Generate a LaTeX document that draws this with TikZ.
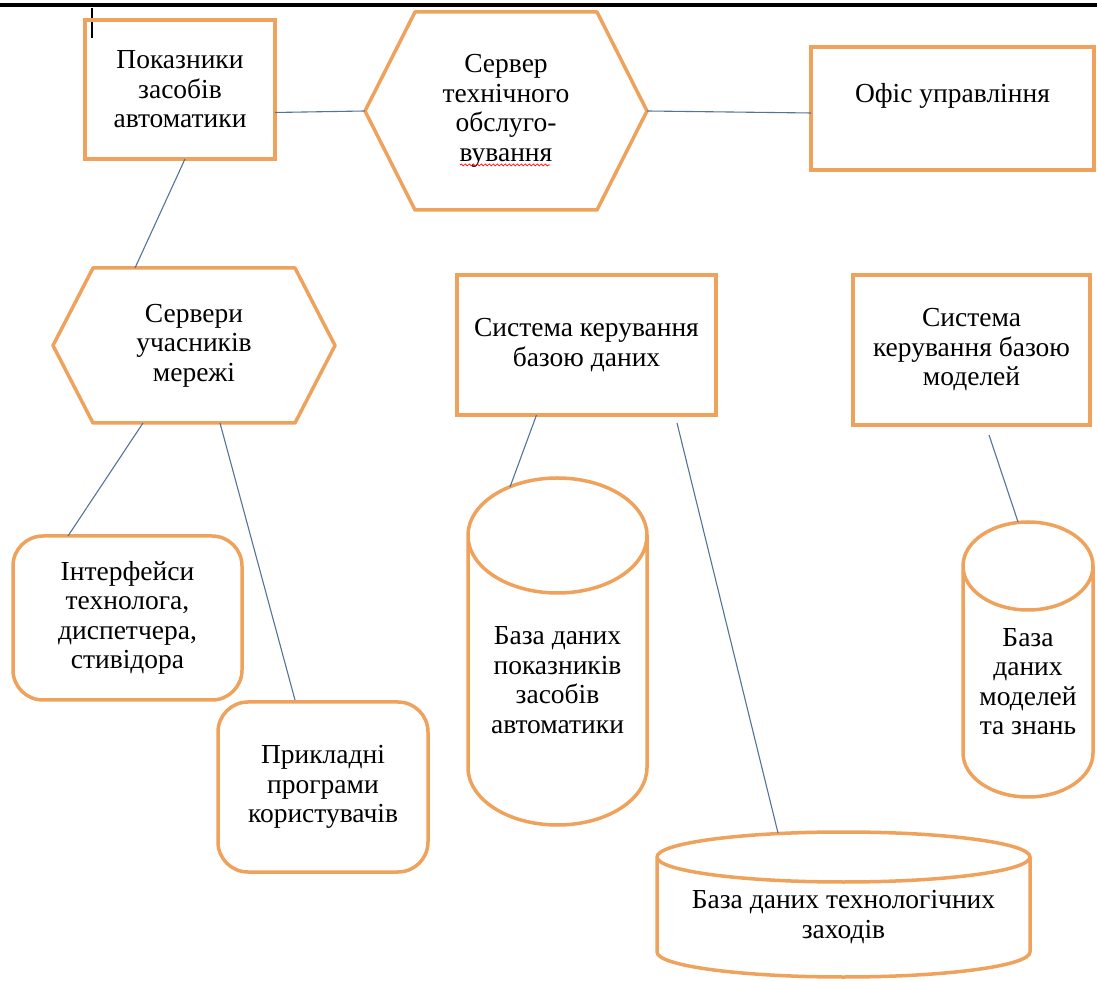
\documentclass[tikz,border=0pt]{standalone}
\usepackage{fontspec}
\setmainfont{Liberation Serif}
\usetikzlibrary{calc,decorations.pathmorphing}
\definecolor{orng}{RGB}{238,162,92}
\definecolor{lnk}{RGB}{85,115,150}
\newcommand{\dbcyl}[3]{\draw[form] (#1.north west) -- ($(#1.south west)+(0,#3)$) arc[start angle=180,end angle=360,x radius=#2pt,y radius=#3pt] -- (#1.north east) arc[start angle=0,end angle=360,x radius=#2pt,y radius=#3pt];}
\newcommand{\hexa}[2]{\draw[form] (#1.west) -- ($(#1.north west)+(#2,0)$) -- ($(#1.north east)+(-#2,0)$) -- (#1.east) -- ($(#1.south east)+(-#2,0)$) -- ($(#1.south west)+(#2,0)$) -- cycle;}
\begin{document}
\begin{tikzpicture}[x=1pt,y=1pt,
    main/.style={font=\fontsize{27.5}{29.5}\selectfont, align=center, inner sep=0pt, outer sep=0pt},
    rect/.style={main, draw=orng, line width=3.5pt},
    rbox/.style={rect, rounded corners=30pt},
    form/.style={draw=orng, line width=3.5pt, line join=round},
    link/.style={draw=lnk, line width=1.1pt}]
    \useasboundingbox (0,0) rectangle (1097,980);
    \draw[line width=3.5pt] (0,975) -- (1097,975);
    \draw[line width=1.8pt] (92,972) -- (92,942);

    \node[rect, minimum width=190pt, minimum height=139pt] (1) at (180,890.5) {Показники\\засобів\\автоматики};
    \node[main, minimum width=282pt, minimum height=198pt] (2) at (506,869) {Сервер\\технічного\\обслуго-\\вування};
    \node[rect, minimum width=283pt, minimum height=123pt, text depth=32pt] (3) at (952.5,871.5) {Офіс управління};
    \node[main, minimum width=282pt, minimum height=155pt] (4) at (194,634.5) {Сервери\\учасників\\мережі};
    \node[rect, minimum width=259pt, minimum height=140pt] (5) at (586.5,635) {Система керування\\базою даних};
    \node[rect, minimum width=237pt, minimum height=150pt] (6) at (971.5,630) {Система\\керування базою\\моделей};
    \node[rbox, minimum width=229pt, minimum height=164pt] (7) at (127.5,362) {Інтерфейси\\технолога,\\диспетчера,\\стивідора};
    \node[rbox, minimum width=210pt, minimum height=170pt] (8) at (323,193) {Прикладні\\програми\\користувачів};
    \node[main, minimum width=179pt, minimum height=289.5pt] (9) at (557.5,299.75) {База даних\\показників\\засобів\\автоматики};
    \node[main, minimum width=373pt, minimum height=120pt] (10) at (843.5,63) {База даних технологічних\\заходів};
    \node[main, minimum width=130pt, minimum height=231pt] (11) at (1028,298.5) {База\\даних\\моделей\\та знань};

    \hexa{2}{50}
    \hexa{4}{40}
    \dbcyl{9}{89.5}{57.5}
    \dbcyl{10}{186.5}{25}
    \dbcyl{11}{65}{44}
    \draw[red, line width=0.7pt, decorate, decoration={snake, amplitude=1pt, segment length=4pt}] (460,815) -- (550,815);

    \draw[link] ($(1.east)+(0,-23)$) -- (2.west);
    \draw[link] (2.east) -- ($(3.west)+(0,-4.5)$);
    \draw[link] ($(1.south)+(5,0)$) -- ($(4.north)+(-59,0)$);
    \draw[link] ($(4.south)+(-51,0)$) -- ($(7.north)+(-59.5,0)$);
    \draw[link] ($(4.south)+(26,0)$) -- ($(8.north)+(-28,2)$);
    \draw[link] ($(5.south)+(-50,0)$) -- ($(9.north)+(-47.5,48.5)$);
    \draw[link] ($(5.south)+(90.5,-8)$) -- ($(10.north)+(-65.5,24)$);
    \draw[link] ($(6.south)+(17.5,-10)$) -- ($(11.north)+(-10,44)$);
\end{tikzpicture}
\end{document}
